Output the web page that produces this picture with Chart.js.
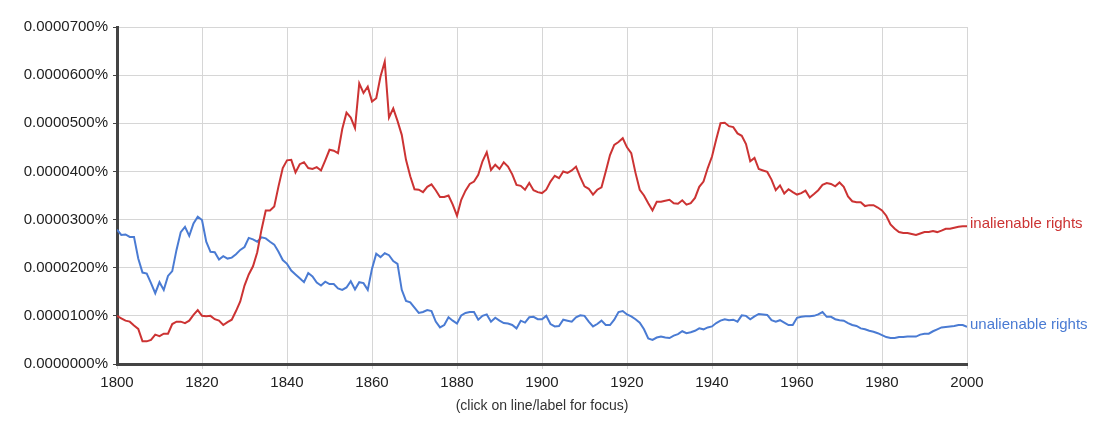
<!DOCTYPE html>
<html>
<head>
<meta charset="UTF-8">
<title>inalienable rights vs unalienable rights</title>
<style>
	body {
		margin: 0;
		background: #fff;
	}
</style>
<script src="https://cdnjs.cloudflare.com/ajax/libs/Chart.js/4.4.1/chart.umd.min.js"></script>
</head>
<body>
<canvas id="myChart" width="1113" height="443"></canvas>

<script type="text/javascript">
	// values are in units of 0.0000100% (one grid step), one per year 1800..2000
	var firstYear = 1800;
	var lastYear = 2000;

	var inalienable = [
		1.00,0.95,0.90,0.88,0.80,0.73,0.47,0.47,0.50,0.61,
		0.58,0.63,0.63,0.83,0.88,0.88,0.85,0.90,1.02,1.12,
		1.00,0.99,1.00,0.93,0.90,0.81,0.87,0.92,1.10,1.30,
		1.63,1.86,2.03,2.32,2.79,3.19,3.19,3.27,3.69,4.07,
		4.23,4.24,3.98,4.15,4.19,4.07,4.05,4.09,4.02,4.23,
		4.45,4.43,4.38,4.88,5.22,5.12,4.90,5.83,5.63,5.76,
		5.45,5.52,5.97,6.28,5.12,5.31,5.05,4.76,4.24,3.90,
		3.63,3.62,3.57,3.68,3.73,3.61,3.47,3.47,3.50,3.31,
		3.08,3.41,3.60,3.74,3.79,3.93,4.21,4.40,4.03,4.14,
		4.05,4.19,4.10,3.94,3.72,3.70,3.62,3.76,3.61,3.57,
		3.55,3.62,3.79,3.91,3.86,4.00,3.97,4.02,4.10,3.88,
		3.69,3.64,3.52,3.62,3.67,4.00,4.34,4.55,4.61,4.69,
		4.50,4.38,3.97,3.62,3.50,3.34,3.19,3.37,3.37,3.39,
		3.41,3.34,3.33,3.40,3.31,3.34,3.45,3.68,3.79,4.07,
		4.31,4.67,5.00,5.01,4.94,4.92,4.79,4.74,4.57,4.21,
		4.28,4.05,4.02,3.99,3.83,3.61,3.71,3.54,3.63,3.57,
		3.52,3.55,3.60,3.46,3.53,3.61,3.72,3.76,3.74,3.69,
		3.77,3.68,3.48,3.38,3.36,3.36,3.28,3.30,3.30,3.25,
		3.19,3.08,2.90,2.81,2.74,2.72,2.72,2.70,2.68,2.71,
		2.74,2.74,2.76,2.74,2.77,2.81,2.81,2.83,2.85,2.86,
		2.86
	];

	var unalienable = [
		2.79,2.68,2.69,2.64,2.64,2.19,1.90,1.88,1.68,1.47,
		1.70,1.54,1.83,1.93,2.37,2.74,2.85,2.66,2.92,3.06,
		2.99,2.54,2.33,2.32,2.17,2.24,2.19,2.21,2.28,2.37,
		2.43,2.62,2.59,2.54,2.63,2.61,2.54,2.48,2.33,2.16,
		2.08,1.94,1.86,1.78,1.70,1.89,1.82,1.69,1.63,1.71,
		1.66,1.66,1.57,1.54,1.59,1.72,1.55,1.70,1.68,1.54,
		1.98,2.29,2.22,2.30,2.26,2.14,2.08,1.54,1.31,1.28,
		1.17,1.06,1.08,1.12,1.10,0.88,0.76,0.81,0.97,0.90,
		0.84,1.01,1.06,1.08,1.08,0.92,1.00,1.03,0.88,0.96,
		0.90,0.85,0.84,0.81,0.74,0.90,0.86,0.97,0.98,0.93,
		0.93,1.00,0.83,0.78,0.79,0.92,0.90,0.88,0.97,1.01,
		1.00,0.88,0.78,0.83,0.90,0.81,0.81,0.92,1.08,1.10,
		1.03,0.99,0.93,0.86,0.72,0.53,0.50,0.55,0.57,0.55,
		0.54,0.59,0.62,0.68,0.64,0.66,0.69,0.74,0.72,0.76,
		0.78,0.85,0.90,0.93,0.91,0.92,0.88,1.01,1.00,0.93,
		0.99,1.04,1.03,1.02,0.91,0.88,0.91,0.86,0.81,0.81,
		0.96,0.98,0.99,0.99,1.00,1.03,1.08,0.98,0.98,0.93,
		0.91,0.90,0.85,0.81,0.79,0.74,0.72,0.69,0.67,0.64,
		0.60,0.56,0.54,0.54,0.56,0.56,0.57,0.57,0.57,0.61,
		0.63,0.63,0.68,0.72,0.76,0.77,0.78,0.79,0.81,0.81,
		0.77
	];

	var xTickLabels = [1800, 1820, 1840, 1860, 1880, 1900, 1920, 1940, 1960, 1980, 2000];
	var yTickLabels = ['0.0000000%', '0.0000100%', '0.0000200%', '0.0000300%',
		'0.0000400%', '0.0000500%', '0.0000600%', '0.0000700%'];

	var seriesNames = ['inalienable rights', 'unalienable rights'];
	var seriesColors = ['#cc3333', '#4a7bd3'];

	// year/value pairs for the linear x axis
	function toPoints(values) {
		return values.map(function(v, i) {
			return { x: firstYear + i, y: v };
		});
	}

	// series names written at the right end of each line
	var endLabels = {
		id: 'endLabels',
		afterDatasetsDraw: function(chart) {
			var ctx = chart.ctx;
			ctx.save();
			ctx.font = '15px "Liberation Sans", Arial, sans-serif';
			ctx.textAlign = 'left';
			ctx.textBaseline = 'middle';
			chart.data.datasets.forEach(function(ds, i) {
				var pts = chart.getDatasetMeta(i).data;
				var last = pts[pts.length - 1];
				ctx.fillStyle = ds.borderColor;
				ctx.fillText(ds.label, last.x + 3, last.y - 2);
			});
			ctx.restore();
		}
	};

	var tickFont = { family: '"Liberation Sans", Arial, sans-serif', size: 15 };

	var ctx = document.getElementById('myChart').getContext('2d');
	var myChart = new Chart(ctx, {
		type: 'line',
		data: {
			datasets: [
				{ label: seriesNames[0], data: toPoints(inalienable), borderColor: seriesColors[0] },
				{ label: seriesNames[1], data: toPoints(unalienable), borderColor: seriesColors[1] }
			]
		},
		options: {
			responsive: false,
			animation: false,
			devicePixelRatio: 1,
			layout: { padding: { left: 0, top: 27, right: 146, bottom: 0 } },
			elements: {
				line: { borderWidth: 2, tension: 0, fill: false },
				point: { radius: 0, hoverRadius: 0 }
			},
			plugins: {
				legend: { display: false },
				tooltip: { enabled: false }
			},
			events: [],
			scales: {
				x: {
					type: 'linear',
					min: firstYear,
					max: lastYear,
					afterBuildTicks: function(scale) {
						scale.ticks = xTickLabels.map(function(v) { return { value: v }; });
					},
					afterFit: function(scale) { scale.height = 79; },
					ticks: {
						color: '#222',
						font: tickFont,
						padding: 5,
						maxRotation: 0,
						autoSkip: false,
						callback: function(v) { return String(v); }
					},
					grid: { color: '#d6d6d6', tickColor: '#d6d6d6', tickLength: 5, lineWidth: 1 },
					border: { color: '#444', width: 3 },
					title: {
						display: true,
						text: '(click on line/label for focus)',
						color: '#333',
						font: { family: '"Liberation Sans", Arial, sans-serif', size: 14 },
						padding: { top: 0, bottom: 28 }
					}
				},
				y: {
					min: 0,
					max: yTickLabels.length - 1,
					afterFit: function(scale) { scale.width = 117; },
					ticks: {
						stepSize: 1,
						color: '#222',
						font: tickFont,
						padding: 5,
						callback: function(v) { return yTickLabels[v]; }
					},
					grid: { color: '#d6d6d6', tickColor: '#444', tickLength: 4, lineWidth: 1 },
					border: { color: '#444', width: 3 }
				}
			}
		},
		plugins: [endLabels]
	});
</script>
</body>
</html>
